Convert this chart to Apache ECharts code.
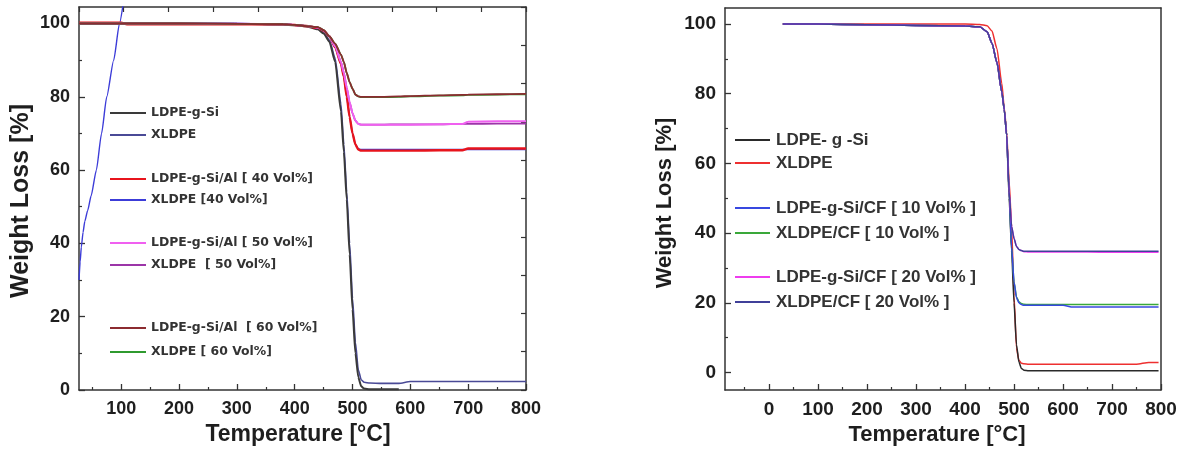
<!DOCTYPE html>
<html>
<head>
<meta charset="utf-8">
<script src="https://cdn.jsdelivr.net/npm/echarts@6/dist/echarts.min.js"></script>
<style>
  html, body { margin: 0; padding: 0; background: #ffffff; }
  #chart { width: 1186px; height: 454px; }
</style>
</head>
<body>
<div id="chart"></div>
<script>
// ---- Panel A: LDPE-g-Si / XLDPE with Al filler (TGA curves) ----
const tempsA = [27, 100, 110, 200, 300, 380, 400, 420, 440, 450, 460, 470, 480, 485, 490, 495, 500, 505, 510, 515, 520, 530, 550, 580, 600, 650, 690, 700, 750, 800];
const ldpeGSi   = [100, 100, 100, 100, 99.9, 99.7, 99.5, 99.2, 98.4, 97.3, 95, 89.5, 76, 65, 52, 37, 22, 10, 3.5, 1, 0.4, 0.2, 0.2, 0.2, null, null, null, null, null, null];
const xldpe     = [100, 100, 100, 100, 100, 99.8, 99.6, 99.4, 98.7, 97.7, 95.5, 90.5, 78, 67, 54, 40, 25, 13, 5.5, 2.8, 2.1, 1.9, 1.8, 1.8, 2.3, 2.3, 2.3, 2.3, 2.3, 2.3];
const ldpeAl40  = [100.2, 100.2, 99.8, 99.8, 99.8, 99.8, 99.6, 99.3, 98.8, 98, 96.5, 93.5, 89, 85.5, 80, 74.5, 70, 67, 65.6, 65.3, 65.3, 65.3, 65.3, 65.3, 65.3, 65.4, 65.4, 65.9, 65.9, 65.9];
const xldpe40   = [100, 100, 100, 100, 100, 99.8, 99.6, 99.3, 98.8, 98, 96.5, 93.5, 89, 85.5, 80, 74.5, 70, 67, 65.8, 65.6, 65.6, 65.6, 65.6, 65.6, 65.6, 65.6, 65.6, 65.6, 65.6, 65.6];
const ldpeAl50  = [100, 100, 100, 100, 99.9, 99.8, 99.6, 99.3, 98.9, 98.1, 96.5, 93.8, 89.5, 86.5, 82.5, 78.5, 75.5, 73.5, 72.6, 72.4, 72.4, 72.4, 72.4, 72.4, 72.4, 72.5, 72.6, 73.2, 73.3, 73.3];
const xldpe50   = [100, 100, 100, 100, 99.9, 99.8, 99.6, 99.3, 98.9, 98.1, 96.5, 93.8, 89.5, 86.5, 82.5, 78.5, 75.5, 73.5, 72.6, 72.4, 72.4, 72.4, 72.4, 72.5, 72.5, 72.5, 72.6, 72.6, 72.7, 72.7];
const ldpeAl60  = [100, 100, 100, 100, 99.9, 99.8, 99.6, 99.3, 99, 98.2, 96.5, 94.5, 91.5, 89.5, 86.5, 84, 82.2, 80.6, 80.1, 80, 80, 80, 80, 80.1, 80.2, 80.4, 80.5, 80.6, 80.7, 80.8];
const xldpe60   = [100, 100, 100, 100, 99.9, 99.8, 99.6, 99.3, 99, 98.2, 96.5, 94.5, 91.5, 89.5, 86.5, 84, 82.2, 80.6, 80.1, 79.9, 79.9, 79.9, 79.9, 80, 80.1, 80.3, 80.4, 80.5, 80.6, 80.7];
// separate early trace of the XLDPE [40 Vol%] run
const riseTemps  = [27, 29, 31, 34, 37, 42, 48, 57, 66, 75, 87, 97, 104];
const riseValues = [30, 35, 39, 43, 46, 49, 53, 60, 70, 80, 90, 100, 106];

// ---- Panel B: LDPE-g-Si / XLDPE with CF filler ----
const tempsB = [28, 100, 200, 300, 400, 430, 445, 455, 465, 475, 480, 485, 490, 495, 500, 505, 510, 515, 520, 530, 550, 600, 620, 650, 700, 750, 775, 795];
const ldpeGSiB = [100, 100, 99.8, 99.6, 99.4, 99.2, 97.8, 94.5, 89, 80.5, 75.5, 68, 50, 35, 20, 8, 3, 1.2, 0.7, 0.5, 0.5, 0.5, 0.5, 0.5, 0.5, 0.5, 0.5, 0.5];
const xldpeB   = [100, 100, 100, 100, 100, 99.9, 99.5, 98, 93, 83, 76, 69, 55, 42, 22, 7, 3.5, 2.7, 2.5, 2.4, 2.4, 2.4, 2.4, 2.4, 2.4, 2.4, 2.9, 2.9];
const cf10     = [100, 100, 99.8, 99.6, 99.4, 99.2, 97.8, 94.5, 89, 80.5, 75.5, 68, 52, 36, 26, 21.5, 20, 19.5, 19.3, 19.3, 19.3, 19.3, 18.8, 18.8, 18.8, 18.8, 18.8, 18.8];
const xcf10    = [100, 100, 99.8, 99.6, 99.4, 99.2, 97.8, 94.5, 89, 80.5, 75.5, 68, 52, 36, 26, 21.7, 20.3, 19.8, 19.6, 19.5, 19.5, 19.5, 19.5, 19.5, 19.5, 19.5, 19.5, 19.5];
const cf20     = [100, 100, 99.8, 99.6, 99.4, 99.2, 97.8, 94.5, 89, 80.5, 75.5, 68, 52, 42, 38.5, 36.2, 35.3, 35, 34.7, 34.6, 34.6, 34.6, 34.6, 34.6, 34.5, 34.5, 34.5, 34.5];
const xcf20    = [100, 100, 99.8, 99.6, 99.4, 99.2, 97.8, 94.5, 89, 80.5, 75.5, 68, 52, 42, 38.5, 36.2, 35.3, 35, 34.8, 34.8, 34.8, 34.8, 34.8, 34.8, 34.8, 34.8, 34.8, 34.8];

// tick labels
const tempTicksA  = [100, 200, 300, 400, 500, 600, 700, 800];
const tempMinorA  = [50, 150, 250, 350, 450, 550, 650, 750];
const tempTicksB  = [0, 100, 200, 300, 400, 500, 600, 700, 800];
const tempMinorB  = [-50, 50, 150, 250, 350, 450, 550, 650, 750];
const lossTicks   = [0, 20, 40, 60, 80, 100];
const lossMinor   = [10, 30, 50, 70, 90];

const FONT = '"Liberation Sans", Arial, sans-serif';
const INK = '#1e1e1e';

function pairs(temps, vals) { return temps.map((t, i) => [t, vals[i]]); }

function line(name, temps, vals, color, width, grid) {
  return {
    type: 'line', name: name,
    xAxisIndex: grid * 3, yAxisIndex: grid * 3,
    data: pairs(temps, vals),
    showSymbol: false, symbol: 'none',
    smooth: 0.2, smoothMonotone: 'x',
    connectNulls: false,
    lineStyle: { color: color, width: width },
    itemStyle: { color: color },
    emphasis: { disabled: true },
    animation: false
  };
}

// legend entries: [name, colour]
const legendA = [
  ['LDPE-g-Si', '#3a3a3a'],
  ['XLDPE', '#4a4a96'],
  ['LDPE-g-Si/Al [ 40 Vol%]', '#e8141c'],
  ['XLDPE [40 Vol%]', '#3c3cd8'],
  ['LDPE-g-Si/Al [ 50 Vol%]', '#f060f0'],
  ['XLDPE  [ 50 Vol%]', '#9c35a8'],
  ['LDPE-g-Si/Al  [ 60 Vol%]', '#8c2b30'],
  ['XLDPE [ 60 Vol%]', '#2f9a2f']
];
const legendB = [
  ['LDPE- g -Si', '#2a2a2a'],
  ['XLDPE', '#ee3030'],
  ['LDPE-g-Si/CF [ 10 Vol% ]', '#3848e0'],
  ['XLDPE/CF [ 10 Vol% ]', '#3aa83a'],
  ['LDPE-g-Si/CF [ 20 Vol% ]', '#ee3cee'],
  ['XLDPE/CF [ 20 Vol% ]', '#404099']
];
const legendRowsA = [113, 135, 179, 200, 243, 265, 328, 352];
const legendRowsB = [140, 163, 208, 233, 277, 302];

const C = {};
legendA.forEach(([n, c]) => { C['A:' + n] = c; });
legendB.forEach(([n, c]) => { C['B:' + n] = c; });

const series = [
  line('XLDPE [40 Vol%]', tempsA, xldpe40, C['A:XLDPE [40 Vol%]'], 1.6, 0),
  line('XLDPE [40 Vol%]', riseTemps, riseValues, C['A:XLDPE [40 Vol%]'], 1.4, 0),
  line('XLDPE', tempsA, xldpe, C['A:XLDPE'], 1.6, 0),
  line('LDPE-g-Si', tempsA, ldpeGSi, C['A:LDPE-g-Si'], 2, 0),
  line('LDPE-g-Si/Al [ 40 Vol%]', tempsA, ldpeAl40, C['A:LDPE-g-Si/Al [ 40 Vol%]'], 2.4, 0),
  line('XLDPE  [ 50 Vol%]', tempsA, xldpe50, C['A:XLDPE  [ 50 Vol%]'], 1.8, 0),
  line('LDPE-g-Si/Al [ 50 Vol%]', tempsA, ldpeAl50, C['A:LDPE-g-Si/Al [ 50 Vol%]'], 2, 0),
  line('XLDPE [ 60 Vol%]', tempsA, xldpe60, C['A:XLDPE [ 60 Vol%]'], 1.8, 0),
  line('LDPE-g-Si/Al  [ 60 Vol%]', tempsA, ldpeAl60, C['A:LDPE-g-Si/Al  [ 60 Vol%]'], 1.8, 0),

  line('XLDPE', tempsB, xldpeB, C['B:XLDPE'], 1.5, 1),
  line('LDPE- g -Si', tempsB, ldpeGSiB, C['B:LDPE- g -Si'], 1.5, 1),
  line('XLDPE/CF [ 10 Vol% ]', tempsB, xcf10, C['B:XLDPE/CF [ 10 Vol% ]'], 1.5, 1),
  line('LDPE-g-Si/CF [ 10 Vol% ]', tempsB, cf10, C['B:LDPE-g-Si/CF [ 10 Vol% ]'], 1.5, 1),
  line('LDPE-g-Si/CF [ 20 Vol% ]', tempsB, cf20, C['B:LDPE-g-Si/CF [ 20 Vol% ]'], 1.5, 1),
  line('XLDPE/CF [ 20 Vol% ]', tempsB, xcf20, C['B:XLDPE/CF [ 20 Vol% ]'], 1.5, 1)
];

function legendItem(entry, top, left, font, fontSize, iconW, gap) {
  return {
    show: true, selectedMode: false,
    orient: 'vertical', left: left, top: top,
    padding: 0, itemGap: 0,
    icon: 'rect', itemWidth: iconW, itemHeight: 2,
    data: [{ name: entry[0], itemStyle: { color: entry[1], borderWidth: 0 }, lineStyle: { color: entry[1] } }],
    textStyle: { fontFamily: font, fontSize: fontSize, fontWeight: 'bold', color: '#333', lineHeight: 18, padding: [0, 0, 0, gap - 5] }
  };
}
const legends = []
  .concat(legendA.map((e, i) => legendItem(e, legendRowsA[i] - 9, 110, '"DejaVu Sans", sans-serif', 12.4, 36, 5)))
  .concat(legendB.map((e, i) => legendItem(e, legendRowsB[i] - 9, 735, FONT, 17, 35, 6)));

const axisLine = { show: true, onZero: false, lineStyle: { color: '#333', width: 1.5 } };
const noSplit = { show: false };

function xAxes(grid, min, max, majors, minors, topTicks) {
  return [
    { type: 'value', gridIndex: grid, position: 'bottom', min: min, max: max,
      axisLine: axisLine, splitLine: noSplit,
      axisTick: { show: true, inside: true, length: 6, customValues: majors, lineStyle: { color: '#333', width: 1.3 } },
      axisLabel: { show: true, customValues: majors, margin: 10, color: INK, fontFamily: FONT, fontWeight: 'bold', fontSize: grid === 0 ? 18 : 19 } },
    { type: 'value', gridIndex: grid, position: 'bottom', min: min, max: max,
      axisLine: { show: false, onZero: false }, splitLine: noSplit, axisLabel: { show: false },
      axisTick: { show: true, inside: true, length: 3, customValues: minors, lineStyle: { color: '#333', width: 1.2 } } },
    { type: 'value', gridIndex: grid, position: 'top', min: 0, max: 10, interval: 1,
      axisLine: axisLine, splitLine: noSplit, axisLabel: { show: false },
      axisTick: { show: topTicks, inside: true, length: 5, lineStyle: { color: '#333', width: 1.2 } } }
  ];
}
function yAxes(grid, min, max, rightTicks) {
  return [
    { type: 'value', gridIndex: grid, position: 'left', min: min, max: max,
      axisLine: axisLine, splitLine: noSplit,
      axisTick: { show: true, inside: true, length: 6, customValues: lossTicks, lineStyle: { color: '#333', width: 1.3 } },
      axisLabel: { show: true, customValues: lossTicks, margin: 9, color: INK, fontFamily: FONT, fontWeight: 'bold', fontSize: grid === 0 ? 18 : 19 } },
    { type: 'value', gridIndex: grid, position: 'left', min: min, max: max,
      axisLine: { show: false, onZero: false }, splitLine: noSplit, axisLabel: { show: false },
      axisTick: { show: true, inside: true, length: 3, customValues: lossMinor, lineStyle: { color: '#333', width: 1.2 } } },
    { type: 'value', gridIndex: grid, position: 'right', min: 0, max: 10, interval: 1,
      axisLine: axisLine, splitLine: noSplit, axisLabel: { show: false },
      axisTick: { show: rightTicks, inside: true, length: 5, lineStyle: { color: '#333', width: 1.2 } } }
  ];
}

function title(text, x, y, rot, size) {
  return {
    type: 'text', x: x, y: y, rotation: rot, silent: true,
    style: { text: text, fill: INK, font: 'bold ' + size + 'px ' + FONT, align: 'center', verticalAlign: 'middle', textAlign: 'center', textVerticalAlign: 'middle' }
  };
}

const chart = echarts.init(document.getElementById('chart'), null, { renderer: 'canvas' });
chart.setOption({
  backgroundColor: '#ffffff',
  animation: false,
  grid: [
    { left: 79, top: 7, right: 1186 - 526, bottom: 454 - 390 },
    { left: 725, top: 8, right: 1186 - 1161, bottom: 454 - 390 }
  ],
  xAxis: xAxes(0, 27, 800, tempTicksA, tempMinorA, true).concat(xAxes(1, -90, 800, tempTicksB, tempMinorB, false)),
  yAxis: yAxes(0, 0, 104.5, true).concat(yAxes(1, -5, 104.6, false)),
  legend: legends,
  graphic: [
    title('Temperature [\u00B0C]', 298, 435, 0, 23),
    title('Temperature [\u00B0C]', 937, 435, 0, 22),
    title('Weight Loss [%]', 21, 201, Math.PI / 2, 25),
    title('Weight Loss [%]', 665, 203, Math.PI / 2, 22)
  ],
  series: series
});
</script>
</body>
</html>
